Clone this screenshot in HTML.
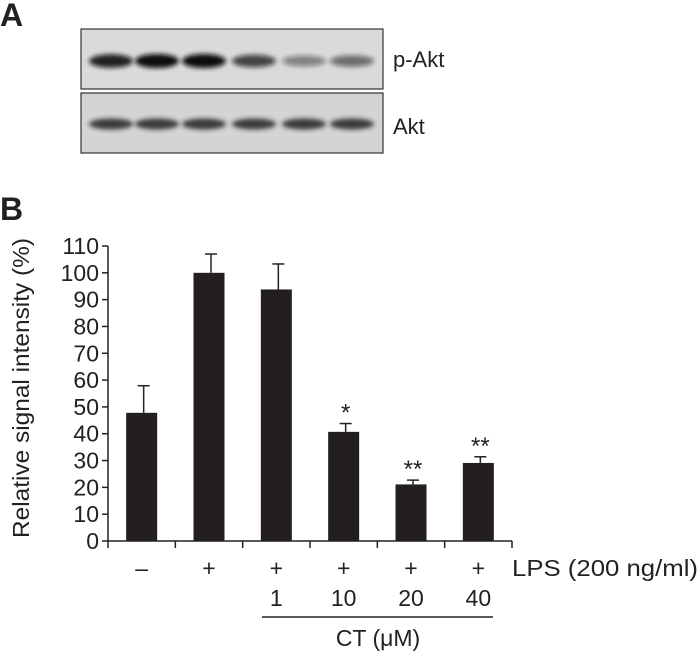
<!DOCTYPE html>
<html><head><meta charset="utf-8"><style>
html,body{margin:0;padding:0;background:#fff;}
body{width:699px;height:653px;overflow:hidden;font-family:"Liberation Sans",sans-serif;}
</style></head><body>
<svg width="699" height="653" viewBox="0 0 699 653" xmlns="http://www.w3.org/2000/svg">
<defs>
<filter id="bl" x="-30%" y="-100%" width="160%" height="300%"><feGaussianBlur stdDeviation="2.5"/></filter>
</defs>
<text x="0" y="26" font-size="32" font-weight="bold" font-family="Liberation Sans Narrow, Liberation Sans, sans-serif" fill="#222">A</text>
<text x="0" y="220" font-size="32" font-weight="bold" font-family="Liberation Sans Narrow, Liberation Sans, sans-serif" fill="#222">B</text>
<g>
<rect x="81" y="29" width="302" height="60" fill="#dadada" stroke="#333" stroke-width="1.2"/>
<g id="pband" filter="url(#bl)"></g>
</g>
<g>
<rect x="81" y="93" width="302" height="60" fill="#d4d4d4" stroke="#333" stroke-width="1.2"/>
<g id="aband" filter="url(#bl)"></g>
</g>
<text x="393" y="67" font-size="22" fill="#222">p-Akt</text>
<text x="393" y="134" font-size="22" fill="#222">Akt</text>
<g id="chart"></g>
</svg>
<script>
const categories=["-","+","+","+","+","+"];
const doses=["","","1","10","20","40"];
const values=[47.8,100,93.8,40.7,21.1,29.1];
const errors=[10.1,7,9.5,3.1,1.6,2.3];
const stars=["","","","*","**","**"];
const yTicks=[0,10,20,30,40,50,60,70,80,90,100,110];
const pAktIntensity=[0.9,1,1,0.75,0.45,0.55];
const aktIntensity=[0.85,0.85,0.85,0.85,0.85,0.85];

const NS="http://www.w3.org/2000/svg";
const x0=108,x1=512,y0=541,yTop=246,yMax=110;
const band=(x1-x0)/categories.length;
function yS(v){return y0-(v/yMax)*(y0-yTop);}
function xC(i){return x0+band*(i+0.5);}
function mk(t,a,p){const e=document.createElementNS(NS,t);for(const k in a)e.setAttribute(k,a[k]);p.appendChild(e);return e;}
const g=document.getElementById('chart');
const pb=document.getElementById('pband'),ab=document.getElementById('aband');
const bx=[111,157,204,254,304,352];
pAktIntensity.forEach((v,i)=>{const el=mk('ellipse',{cx:bx[i],cy:61,rx:22,ry:4+3*v,fill:'#111','fill-opacity':v},pb);

});
aktIntensity.forEach((v,i)=>{const el=mk('ellipse',{cx:bx[i],cy:124,rx:22,ry:5.5,fill:'#222','fill-opacity':v},ab);

});
const ya=mk('line',{x1:x0,y1:yTop,x2:x0,y2:y0,stroke:'#222','stroke-width':1.5},g);


const xa=mk('line',{x1:x0,y1:y0,x2:x1,y2:y0,stroke:'#222','stroke-width':1.5},g);


yTicks.forEach(t=>{const y=yS(t);
mk('line',{x1:x0-6,y1:y,x2:x0,y2:y,stroke:'#222','stroke-width':1.5},g);
const tx=mk('text',{x:x0-9,y:y+8,'text-anchor':'end','font-size':23,fill:'#222'},g);tx.textContent=t;

});
for(let i=0;i<=categories.length;i++){const x=x0+band*i;mk('line',{x1:x,y1:y0,x2:x,y2:y0+7,stroke:'#222','stroke-width':1.5},g);}
const yt=mk('text',{x:0,y:0,transform:'translate(29,388) rotate(-90)','text-anchor':'middle','font-size':23,fill:'#222',textLength:300,lengthAdjust:'spacingAndGlyphs'},g);
yt.textContent='Relative signal intensity (%)';


values.forEach((v,i)=>{const cx=xC(i),w=31;
const et=yS(v+errors[i]);
const el=mk('line',{x1:cx+2,y1:yS(v),x2:cx+2,y2:et,stroke:'#222','stroke-width':1.5},g);


mk('line',{x1:cx-4,y1:et,x2:cx+8,y2:et,stroke:'#222','stroke-width':1.5},g);
const r=mk('rect',{x:cx-w/2,y:yS(v),width:w,height:y0-yS(v),fill:'#231f20'},g);


if(stars[i]){const s=mk('text',{x:cx+2,y:et-3,'text-anchor':'middle','font-size':24,fill:'#222'},g);s.textContent=stars[i];

}
const c=mk('text',{x:cx,y:576,'text-anchor':'middle','font-size':23,fill:'#222'},g);c.textContent=categories[i]==='-'?'\u2013':'+';


if(doses[i]){const d=mk('text',{x:cx,y:606,'text-anchor':'middle','font-size':23,fill:'#222'},g);d.textContent=doses[i];

}
});
const lp=mk('text',{x:512,y:576,'font-size':23,fill:'#222',textLength:186,lengthAdjust:'spacingAndGlyphs'},g);lp.textContent='LPS (200 ng/ml)';


const ul=mk('line',{x1:262,y1:617,x2:493,y2:617,stroke:'#222','stroke-width':1.5},g);


const ct=mk('text',{x:378,y:646,'text-anchor':'middle','font-size':23,fill:'#222'},g);ct.textContent='CT (\u03bcM)';


</script>
</body></html>
